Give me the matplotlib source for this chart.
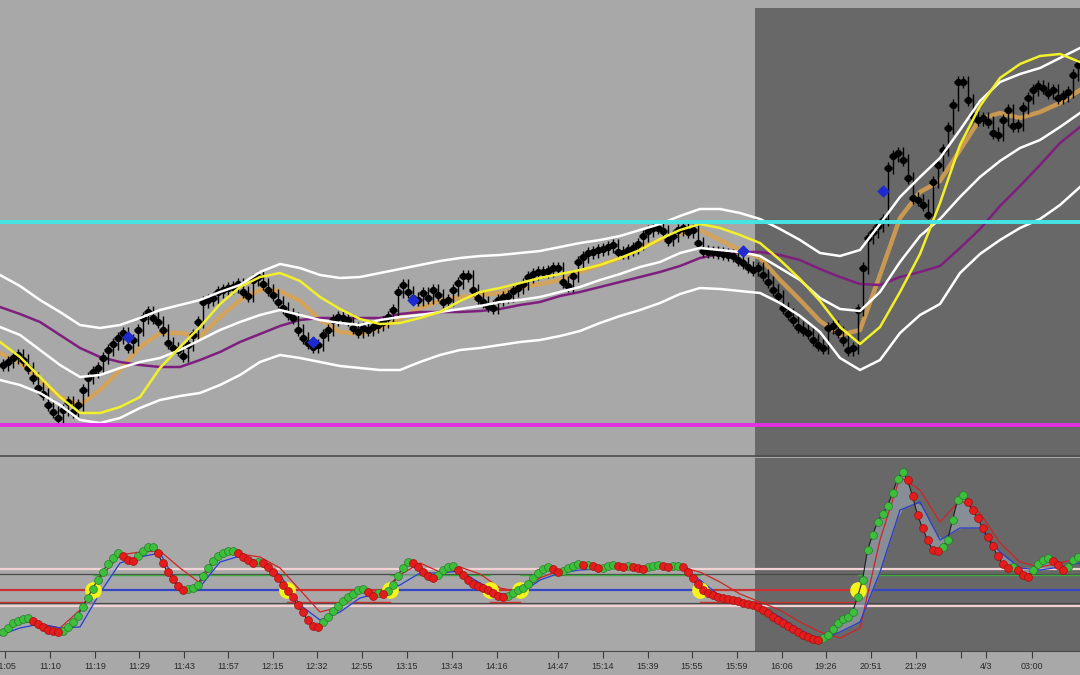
import matplotlib
matplotlib.use("Agg")
import matplotlib.pyplot as plt
import numpy as np

# No price scale is shown on the chart, so all levels are stored as read
# off the picture: distance down from the top of the figure.

# closing level of each bar (one bar every 5 px)
close = [
    365, 362, 358, 355, 360, 368, 378, 388, 394, 405,
    412, 418, 410, 402, 412, 405, 390, 378, 372, 368,
    358, 350, 344, 338, 333, 347, 340, 330, 318, 312,
    318, 322, 330, 343, 348, 350, 356, 345, 335, 322,
    302, 300, 298, 292, 290, 288, 287, 284, 292, 296,
    280, 277, 284, 290, 295, 302, 308, 314, 318, 330,
    338, 343, 347, 345, 335, 330, 320, 317, 318, 320,
    328, 332, 328, 330, 327, 325, 322, 317, 310, 292,
    285, 292, 298, 300, 293, 298, 290, 295, 302, 300,
    290, 283, 276, 276, 290, 298, 302, 306, 308, 300,
    297, 296, 291, 288, 284, 277, 274, 272, 272, 271,
    268, 268, 282, 286, 276, 262, 257, 253, 252, 250,
    249, 247, 245, 252, 253, 250, 248, 244, 236, 231,
    228, 228, 231, 240, 236, 230, 228, 232, 230, 243,
    251, 252, 252, 253, 254, 255, 256, 260, 263, 267,
    270, 268, 275, 282, 290, 296, 308, 314, 320, 327,
    330, 333, 340, 345, 348, 328, 326, 332, 340, 350,
    348, 310, 268, 238, 232, 226, 220, 168, 156, 153,
    160, 178, 198, 200, 205, 215, 182, 165, 150, 128,
    105, 82, 82, 100, 116, 120, 118, 122, 133, 135,
    120, 110, 126, 125, 108, 98, 90, 86, 88, 93,
    90, 98, 96, 92, 75, 65,
]

# overlay studies, one point every 4 bars
band_upper = [275, 286, 300, 312, 325, 328, 325, 318, 310, 305,
              300, 292, 285, 272, 264, 268, 275, 278, 277, 273,
              269, 265, 261, 258, 256, 255, 253, 251, 247, 243,
              240, 236, 230, 224, 216, 209, 209, 213, 219, 229,
              240, 253, 256, 250, 224, 197, 177, 158, 130, 101,
              82, 74, 68, 58, 48]
band_mid = [327, 335, 350, 365, 377, 375, 368, 362, 358, 350,
            340, 330, 322, 315, 310, 315, 320, 323, 325, 320,
            317, 315, 312, 309, 306, 302, 300, 297, 292, 287,
            280, 274, 267, 262, 253, 248, 250, 252, 256, 268,
            280, 298, 309, 311, 292, 262, 236, 219, 197, 177,
            161, 148, 140, 127, 113]
band_lower = [380, 385, 393, 405, 420, 423, 418, 408, 400, 396,
              393, 385, 375, 362, 355, 358, 362, 366, 368, 370,
              370, 362, 355, 350, 348, 345, 342, 340, 336, 331,
              323, 316, 310, 303, 294, 288, 289, 291, 293, 303,
              316, 332, 358, 370, 360, 333, 315, 304, 273, 254,
              240, 228, 219, 205, 187]
ma_slow = [307, 314, 322, 335, 348, 357, 362, 365, 367, 367,
           360, 352, 342, 334, 326, 320, 318, 318, 318, 318,
           314, 312, 312, 312, 311, 309, 305, 302, 296, 292,
           287, 282, 277, 272, 266, 258, 254, 252, 252, 255,
           260, 269, 277, 284, 285, 277, 272, 266, 248, 229,
           206, 186, 165, 143, 127]
ma_fast = [342, 357, 377, 397, 413, 413, 407, 397, 368, 347,
           327, 304, 287, 277, 273, 281, 297, 309, 319, 324,
           323, 318, 312, 301, 292, 288, 283, 278, 274, 270,
           265, 258, 250, 239, 230, 224, 228, 235, 243, 260,
           279, 301, 327, 344, 327, 292, 254, 203, 145, 106,
           78, 64, 56, 54, 62]
ma_mid = [353, 363, 380, 397, 405, 390, 370, 347, 333, 333,
          337, 317, 300, 290, 291, 301, 320, 332, 334, 328,
          319, 308, 301, 297, 295, 293, 287, 284, 280, 272,
          265, 258, 248, 240, 234, 230, 240, 250, 258, 280,
          300, 321, 335, 330, 275, 218, 192, 181, 150, 119,
          113, 118, 112, 103, 90]

resistance = 222
support = 425

# signal diamonds: bar, level
diamond_bar = [25, 62, 82, 148, 176]
diamond_lvl = [337, 342, 300, 251, 191]

# oscillator, one value per bar
osc_main = [
    632, 628, 623, 621, 619, 618, 621, 624, 627, 630,
    631, 632, 631, 627, 622, 616, 607, 598, 589, 580,
    572, 564, 558, 553, 556, 560, 561, 556, 551, 547,
    547, 553, 563, 572, 579, 586, 590, 589, 588, 585,
    576, 568, 561, 556, 553, 551, 551, 553, 557, 560,
    563, 562, 563, 567, 572, 578, 585, 591, 597, 605,
    612, 620, 626, 627, 622, 617, 611, 606, 601, 597,
    594, 590, 589, 592, 596, 593, 594, 591, 585, 576,
    568, 562, 563, 567, 572, 576, 578, 575, 570, 567,
    566, 570, 575, 580, 584, 586, 588, 590, 593, 596,
    597, 596, 593, 590, 588, 584, 578, 573, 569, 567,
    569, 572, 571, 568, 566, 564, 565, 565, 566, 568,
    568, 566, 565, 566, 567, 566, 567, 568, 569, 567,
    566, 565, 566, 567, 566, 566, 567, 572, 578, 584,
    590, 593, 595, 597, 598, 599, 600, 601, 603, 604,
    605, 607, 610, 613, 617, 620, 623, 626, 629, 632,
    635, 637, 639, 640, 638, 635, 629, 623, 619, 617,
    612, 597, 580, 550, 535, 522, 514, 506, 493, 479,
    472, 480, 496, 515, 528, 540, 550, 551, 547, 540,
    520, 500, 495, 502, 510, 518, 528, 537, 546, 556,
    564, 568, 567, 570, 575, 577, 570, 564, 560, 558,
    561, 565, 570, 567, 560, 557,
]
osc_signal = [632, 621, 624, 628, 610, 578, 555, 552, 551, 568,
              583, 553, 554, 557, 568, 590, 612, 607, 590, 593,
              575, 563, 572, 567, 574, 588, 592, 578, 570, 566,
              567, 566, 568, 566, 567, 572, 582, 594, 602, 610,
              622, 632, 638, 628, 540, 477, 490, 522, 500, 513,
              543, 562, 567, 563, 558]
osc_slow = [635, 628, 624, 628, 627, 593, 563, 557, 553, 589,
            587, 562, 556, 562, 575, 605, 620, 612, 598, 593,
            585, 573, 573, 571, 583, 594, 594, 580, 573, 570,
            569, 568, 568, 567, 567, 580, 596, 601, 606, 617,
            630, 640, 632, 622, 572, 510, 502, 540, 528, 528,
            552, 568, 570, 567, 563]

zero_level = 590
upper_levels = [569, 574]
lower_levels = [603, 606]
# bars where the oscillator crosses the zero level, and the direction
cross_bar = [18.1, 56.9, 77.5, 97.5, 103.5, 139.5, 171.1]
cross_up = [True, False, True, False, True, False, True]

night_start = 150.5  # first bar of the overnight session

tick_bar = [0.5, 9.5, 18.5, 27.3, 36.3, 45.1, 54.1, 62.9, 71.9, 80.9,
            89.9, 98.9, 111.1, 120.1, 129.1, 137.9, 146.9, 155.9, 164.7,
            173.7, 182.7, 191.7, 196.7, 205.9]
tick_lbl = ['11:05', '11:10', '11:19', '11:29', '11:43', '11:57', '12:15',
            '12:32', '12:55', '13:15', '13:43', '14:16', '14:47', '15:14',
            '15:39', '15:55', '15:59', '16:06', '19:26', '20:51', '21:29',
            '', '4/3', '03:00']

LIGHT = '#a8a8a8'
DARK = '#686868'

bars = np.arange(len(close))
close = np.array(close, dtype=float)
line_x = np.arange(len(band_upper)) * 4 - 0.5

fig = plt.figure(figsize=(10.8, 6.75), dpi=100)
fig.patch.set_facecolor(LIGHT)

ax = fig.add_axes([0, 218 / 675, 1, 457 / 675])
osc = fig.add_axes([0, 24 / 675, 1, 193 / 675], sharex=ax)

for a in (ax, osc):
    a.set_facecolor(LIGHT)
    for s in a.spines.values():
        s.set_visible(False)
    a.set_yticks([])

ax.set_xlim(-0.5, len(close) - 0.5)
ax.set_ylim(457, 0)
osc.set_ylim(651, 458)

# --- price panel ---
ax.axvspan(night_start, len(close) - 0.5, ymin=0, ymax=449 / 457, color=DARK, lw=0, zorder=0)
ax.axhline(456, color='#4c4c4c', lw=1.2, zorder=1)

ax.plot(line_x, ma_mid, color='#dba24e', lw=3.2, alpha=0.85, zorder=2)
ax.plot(line_x, ma_slow, color='#7e1f7e', lw=1.8, zorder=2)

opens = np.r_[close[0], close[:-1]]
top = np.minimum(opens, close) - 6
bot = np.maximum(opens, close) + 6
ax.vlines(bars, top, bot, color='black', lw=1.0, zorder=3)
ax.plot(bars, close, 'o', color='black', ms=4.2, zorder=3)
ax.plot(bars, close, '_', color='black', ms=6, mew=2.2, zorder=3)

for band in (band_upper, band_mid, band_lower):
    ax.plot(line_x, band, color='white', lw=1.8, zorder=4)
ax.plot(line_x, ma_fast, color='#f2f02a', lw=1.8, zorder=4)

ax.scatter(diamond_bar, diamond_lvl, marker='D', s=30, color='#1c2ad0', zorder=5)

ax.axhline(resistance, color='#44e4e4', lw=2.8, zorder=6)
ax.axhline(support, color='#e030e0', lw=2.8, zorder=6)
ax.tick_params(bottom=False, labelbottom=False)

# --- oscillator panel ---
osc.axvspan(night_start, len(close) - 0.5, color=DARK, lw=0, zorder=0)

for lv in upper_levels[:1] + lower_levels[1:]:
    osc.axhline(lv, color='#f2d2d2', lw=1.6, zorder=1)
osc.axhline(upper_levels[1], color='#4a4a4a', lw=0.9, zorder=1)
osc.axhline(lower_levels[0], color='#4a4a4a', lw=0.9, zorder=1)

# zero line and regime lines change colour at each crossing
edges = [-0.5] + cross_bar + [len(close) - 0.5]
for k in range(len(edges) - 1):
    bull = cross_up[k - 1] if k > 0 else False
    seg = [edges[k], edges[k + 1]]
    osc.plot(seg, [zero_level] * 2, color='#3446c4' if bull else '#c83232', lw=1.6, zorder=2)
    if bull:
        osc.plot(seg, [upper_levels[1] + 0.8] * 2, color='#3fa83f', lw=1.0, zorder=2)
    else:
        osc.plot(seg, [lower_levels[0] - 1] * 2, color='#c83232', lw=1.0, zorder=2)

main = np.array(osc_main, dtype=float)
osc.fill_between(bars, main, np.interp(bars, line_x, osc_slow),
                 color='#9fa9b6', alpha=0.6, lw=0, zorder=2)
osc.plot(line_x, osc_signal, color='#d02424', lw=0.9, zorder=3)
osc.plot(line_x, osc_slow, color='#2a3cd0', lw=0.9, zorder=3)

osc.plot(cross_bar, [zero_level] * len(cross_bar), 'o', ms=11, color='#f4f41c', zorder=4)

osc.plot(bars, main, color='#202020', lw=0.8, zorder=5)
rising = np.r_[True, np.diff(main) <= 0]
osc.scatter(bars[rising], main[rising], s=32, color='#3cc03c',
            edgecolor='#2a7a2a', linewidth=0.5, zorder=6)
osc.scatter(bars[~rising], main[~rising], s=32, color='#e41c1c',
            edgecolor='#a01010', linewidth=0.5, zorder=6)

osc.spines['bottom'].set_visible(True)
osc.spines['bottom'].set_color('#4a4a4a')
osc.set_xticks(tick_bar)
osc.set_xticklabels(tick_lbl, fontsize=6.5, color='#2a2a2a', family='Liberation Sans')
osc.tick_params(axis='x', direction='out', length=5, color='#3a3a3a', pad=3)

fig.savefig('out.png', dpi=100, facecolor=fig.get_facecolor())
